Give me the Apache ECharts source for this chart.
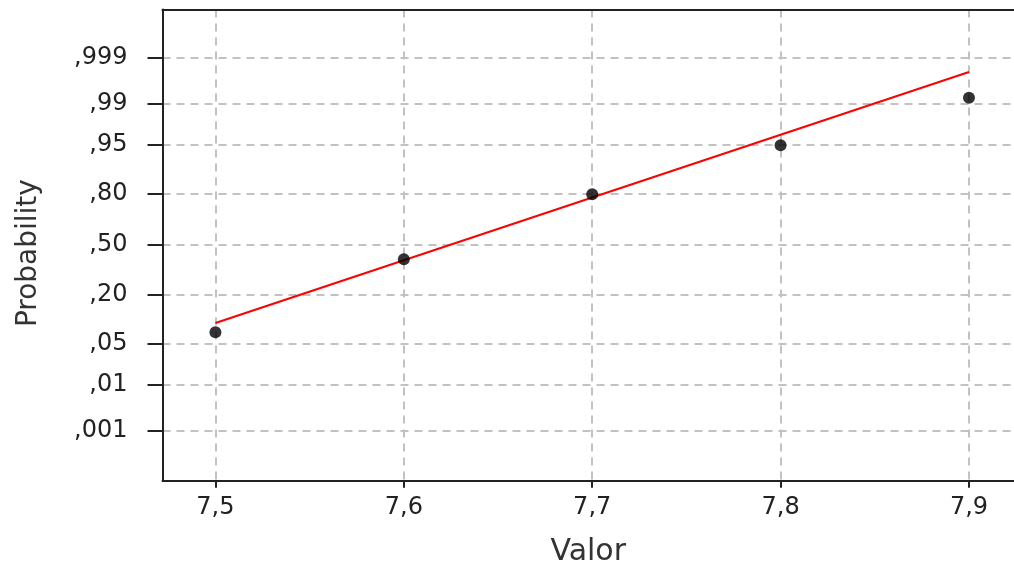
<!DOCTYPE html>
<html>
<head>
<meta charset="utf-8">
<script src="https://cdn.jsdelivr.net/npm/echarts@6/dist/echarts.min.js"></script>
<style>
html,body{margin:0;padding:0;background:#fff;}
#chart{width:1014px;height:567px;}
</style>
</head>
<body>
<div id="chart"></div>
<script>
// ---- Data ----
const valores = [7.5, 7.6, 7.7, 7.8, 7.9];                 // x values of the points
const probabilidades = [0.0726, 0.402, 0.796, 0.9494, 0.9924]; // cumulative probability of each point
const fitX = [7.5, 7.9];                                     // fitted line end points (x)
const fitP = [0.0963, 0.99783];                              // fitted line end points (probability)
const xTickValues = [7.5, 7.6, 7.7, 7.8, 7.9];
const xTickLabels = ['7,5', '7,6', '7,7', '7,8', '7,9'];
const yTickProbs = [0.001, 0.01, 0.05, 0.20, 0.50, 0.80, 0.95, 0.99, 0.999];
const yTickLabels = [',001', ',01', ',05', ',20', ',50', ',80', ',95', ',99', ',999'];

// inverse standard normal CDF (Acklam) – normal probability axis transform
function probit(p) {
  const a = [-3.969683028665376e+01, 2.209460984245205e+02, -2.759285104469687e+02, 1.383577518672690e+02, -3.066479806614716e+01, 2.506628277459239e+00];
  const b = [-5.447609879822406e+01, 1.615858368580409e+02, -1.556989798598866e+02, 6.680131188771972e+01, -1.328068155288572e+01];
  const c = [-7.784894002430293e-03, -3.223964580411365e-01, -2.400758277161838e+00, -2.549732539343734e+00, 4.374664141464968e+00, 2.938163982698783e+00];
  const d = [7.784695709041462e-03, 3.224671290700398e-01, 2.445134137142996e+00, 3.754408661907416e+00];
  const pl = 0.02425, ph = 1 - pl;
  let q, r;
  if (p < pl) {
    q = Math.sqrt(-2 * Math.log(p));
    return (((((c[0]*q+c[1])*q+c[2])*q+c[3])*q+c[4])*q+c[5]) / ((((d[0]*q+d[1])*q+d[2])*q+d[3])*q+1);
  } else if (p <= ph) {
    q = p - 0.5; r = q * q;
    return (((((a[0]*r+a[1])*r+a[2])*r+a[3])*r+a[4])*r+a[5])*q / (((((b[0]*r+b[1])*r+b[2])*r+b[3])*r+b[4])*r+1);
  } else {
    q = Math.sqrt(-2 * Math.log(1 - p));
    return -(((((c[0]*q+c[1])*q+c[2])*q+c[3])*q+c[4])*q+c[5]) / ((((d[0]*q+d[1])*q+d[2])*q+d[3])*q+1);
  }
}

const yTickZ = yTickProbs.map(probit);
const points = valores.map((v, i) => [v, probit(probabilidades[i])]);
const fitLine = fitX.map((v, i) => [v, probit(fitP[i])]);

function nearestLabel(vals, labels, v) {
  let best = 0, bd = Infinity;
  vals.forEach((t, i) => { const dd = Math.abs(t - v); if (dd < bd) { bd = dd; best = i; } });
  return labels[best];
}

const FONT = 'DejaVu Sans';
const chart = echarts.init(document.getElementById('chart'), null, {renderer: 'canvas'});
chart.setOption({
  animation: false,
  backgroundColor: '#ffffff',
  textStyle: {fontFamily: FONT},
  grid: {left: 162.5, top: 9.5, right: 0, bottom: 86.3, containLabel: false, outerBoundsMode: 'none'},
  xAxis: [{
    type: 'value', min: 7.4719, max: 7.9239, position: 'bottom',
    name: 'Valor', nameLocation: 'middle', nameGap: 57,
    nameTextStyle: {fontFamily: FONT, fontSize: 30, color: '#333'},
    axisLine: {show: true, onZero: false, lineStyle: {color: '#222', width: 2}},
    axisTick: {show: true, length: 7, customValues: xTickValues, lineStyle: {color: '#222', width: 2}},
    axisLabel: {show: true, customValues: xTickValues, margin: 15, fontFamily: FONT, fontSize: 24, color: '#222',
      formatter: v => nearestLabel(xTickValues, xTickLabels, v)},
    splitLine: {show: true, lineStyle: {color: '#c2c2c2', width: 2, type: [8, 6]}}
  }, {
    type: 'value', min: 7.4719, max: 7.9239, position: 'top',
    axisLine: {show: true, onZero: false, lineStyle: {color: '#222', width: 2}},
    axisTick: {show: false}, axisLabel: {show: false}, splitLine: {show: false}
  }],
  yAxis: {
    type: 'value', min: -3.914, max: 3.887,
    name: 'Probability', nameLocation: 'middle', nameGap: 120,
    nameTextStyle: {fontFamily: FONT, fontSize: 28, color: '#333', padding: [0, 16, 0, 0]},
    axisLine: {show: true, onZero: false, lineStyle: {color: '#222', width: 2}},
    axisTick: {show: true, length: 15, customValues: yTickZ, lineStyle: {color: '#222', width: 2}},
    axisLabel: {show: true, customValues: yTickZ, margin: 35, fontFamily: FONT, fontSize: 24, color: '#222',
      formatter: v => nearestLabel(yTickZ, yTickLabels, v)},
    splitLine: {show: true, lineStyle: {color: '#c2c2c2', width: 2, type: [8, 6]}}
  },
  series: [{
    type: 'line', xAxisIndex: 0, data: fitLine, symbol: 'none',
    lineStyle: {color: '#ff0000', width: 2}, z: 3
  }, {
    type: 'scatter', xAxisIndex: 0, data: points, symbol: 'circle', symbolSize: 12,
    itemStyle: {color: '#000000'}, z: 4
  }]
});
</script>
</body>
</html>
